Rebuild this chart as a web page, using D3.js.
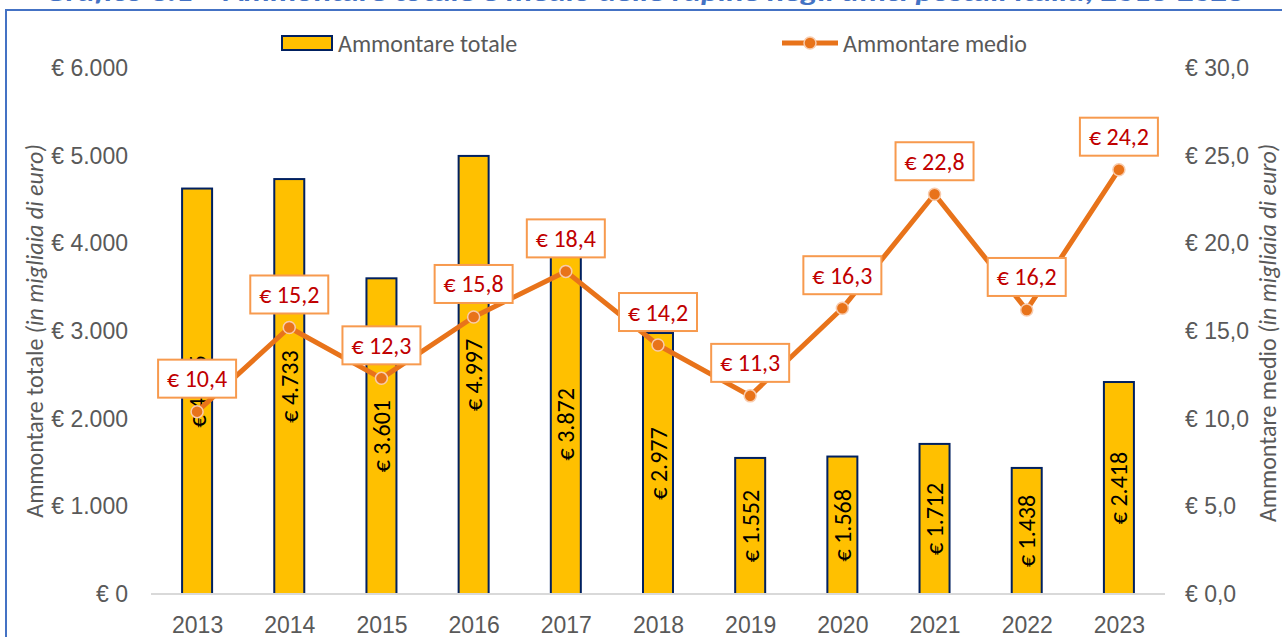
<!DOCTYPE html>
<html>
<head>
<meta charset="utf-8">
<script src="https://cdn.jsdelivr.net/npm/d3@7"></script>
<style>
  html, body { margin: 0; padding: 0; background: #fff; }
  svg { display: block; font-family: Carlito, Calibri, Lato, sans-serif; }
</style>
</head>
<body>
<svg id="chart" width="1282" height="637"></svg>
<script>
// Rapine negli uffici postali: ammontare totale e medio per anno
const years = ["2013","2014","2015","2016","2017","2018","2019","2020","2021","2022","2023"];
const totale = [4625, 4733, 3601, 4997, 3872, 2977, 1552, 1568, 1712, 1438, 2418];
const medio = [10.4, 15.2, 12.3, 15.8, 18.4, 14.2, 11.3, 16.3, 22.8, 16.2, 24.2];
const leftTicks = [0, 1000, 2000, 3000, 4000, 5000, 6000];
const rightTicks = [0, 5, 10, 15, 20, 25, 30];
const titleText = "Grafico 3.1 \u2013 Ammontare totale e medio delle rapine negli uffici postali Italia, 2013-2023";
const seriesNames = ["Ammontare totale", "Ammontare medio"];

const it = d3.formatLocale({ decimal: ",", thousands: ".", grouping: [3], currency: ["\u20ac ", ""] });
const fmtTot = it.format("$,.0f");
const fmtMed = it.format("$,.1f");

const svg = d3.select("#chart");
const plot = { left: 151, right: 1165, top: 68, bottom: 594 };

const x = d3.scalePoint().domain(years).range([plot.left, plot.right]).padding(0.5);
const yL = d3.scaleLinear().domain([0, 6000]).range([plot.bottom, plot.top]);
const yR = d3.scaleLinear().domain([0, 30]).range([plot.bottom, plot.top]);
const barW = 30;

const grey = "#595959";
const orange = "#E8731A";

// title (sits above the frame, mostly outside the canvas)
svg.append("text")
  .attr("x", 45).attr("y", 1)
  .attr("textLength", 1199).attr("lengthAdjust", "spacingAndGlyphs")
  .attr("font-size", 24).attr("font-weight", "bold").attr("font-style", "italic")
  .attr("fill", "#4472C4")
  .text(titleText);

// frame
svg.append("rect")
  .attr("x", 6).attr("y", 10).attr("width", 1300).attr("height", 660)
  .attr("fill", "none").attr("stroke", "#4472C4").attr("stroke-width", 2);

// left axis
const axL = svg.append("g").attr("transform", `translate(${plot.left},0)`)
  .call(d3.axisLeft(yL).tickValues(leftTicks).tickSize(0).tickPadding(23).tickFormat(fmtTot));
axL.select(".domain").remove();
axL.selectAll("text").attr("font-size", 23).attr("fill", grey).attr("font-family", null);

// right axis
const axR = svg.append("g").attr("transform", `translate(${plot.right},0)`)
  .call(d3.axisRight(yR).tickValues(rightTicks).tickSize(0).tickPadding(20).tickFormat(fmtMed));
axR.select(".domain").remove();
axR.selectAll("text").attr("font-size", 23).attr("fill", grey).attr("font-family", null);

// bottom axis
const axB = svg.append("g").attr("transform", `translate(0,${plot.bottom})`)
  .call(d3.axisBottom(x).tickSize(0).tickPadding(23));
axB.select(".domain").remove();
axB.selectAll("text").attr("font-size", 23).attr("fill", grey).attr("font-family", null);

// axis titles
function axisTitle(xPos, yPos, main) {
  const t = svg.append("text")
    .attr("transform", `translate(${xPos},${yPos}) rotate(-90)`)
    .attr("text-anchor", "middle").attr("dominant-baseline", "central")
    .attr("font-size", 24).attr("fill", grey);
  t.append("tspan").text(main + " ");
  t.append("tspan").attr("font-style", "italic").text("(in migliaia di euro)");
}
axisTitle(34, 331, "Ammontare totale");
axisTitle(1267, 333, "Ammontare medio");

// bars
svg.append("g").selectAll("rect").data(years).join("rect")
  .attr("x", (d) => x(d) - barW / 2)
  .attr("y", (d, i) => yL(totale[i]))
  .attr("width", barW)
  .attr("height", (d, i) => yL(0) - yL(totale[i]))
  .attr("fill", "#FFC000").attr("stroke", "#002060").attr("stroke-width", 2);

// baseline
svg.append("line")
  .attr("x1", plot.left).attr("x2", plot.right)
  .attr("y1", plot.bottom).attr("y2", plot.bottom)
  .attr("stroke", "#D9D9D9").attr("stroke-width", 2);

// bar value labels (rotated, centred in bar)
svg.append("g").selectAll("text").data(years).join("text")
  .attr("transform", (d, i) => `translate(${x(d)},${(yL(totale[i]) + yL(0)) / 2}) rotate(-90)`)
  .attr("text-anchor", "middle").attr("dominant-baseline", "central")
  .attr("font-size", 24).attr("fill", "#000")
  .text((d, i) => fmtTot(totale[i]));

// line series
const line = d3.line().x((d, i) => x(years[i])).y((d) => yR(d));
svg.append("path").datum(medio)
  .attr("d", line).attr("fill", "none")
  .attr("stroke", orange).attr("stroke-width", 5).attr("stroke-linejoin", "round");

svg.append("g").selectAll("circle").data(medio).join("circle")
  .attr("cx", (d, i) => x(years[i])).attr("cy", (d) => yR(d)).attr("r", 6)
  .attr("fill", orange).attr("stroke", "#F8CBAD").attr("stroke-width", 1.5);

// line value labels in boxes
const lab = svg.append("g").selectAll("g").data(medio).join("g")
  .attr("transform", (d, i) => `translate(${x(years[i])},${yR(d) - 33})`);
lab.append("rect")
  .attr("x", -39).attr("y", -19).attr("width", 78).attr("height", 38)
  .attr("fill", "#fff").attr("stroke", "#F79A4E").attr("stroke-width", 2);
lab.append("text")
  .attr("text-anchor", "middle").attr("dominant-baseline", "central")
  .attr("font-size", 24).attr("fill", "#C00000")
  .text((d) => fmtMed(d));

// legend
const lg = svg.append("g");
lg.append("rect").attr("x", 282).attr("y", 36).attr("width", 50).attr("height", 14)
  .attr("fill", "#FFC000").attr("stroke", "#002060").attr("stroke-width", 2);
lg.append("text").attr("x", 338).attr("y", 43).attr("dominant-baseline", "central")
  .attr("font-size", 24).attr("fill", grey).text(seriesNames[0]);
lg.append("line").attr("x1", 782).attr("x2", 838).attr("y1", 43).attr("y2", 43)
  .attr("stroke", orange).attr("stroke-width", 5);
lg.append("circle").attr("cx", 810).attr("cy", 43).attr("r", 6)
  .attr("fill", orange).attr("stroke", "#F8CBAD").attr("stroke-width", 1.5);
lg.append("text").attr("x", 843).attr("y", 43).attr("dominant-baseline", "central")
  .attr("font-size", 24).attr("fill", grey).text(seriesNames[1]);
</script>
</body>
</html>
